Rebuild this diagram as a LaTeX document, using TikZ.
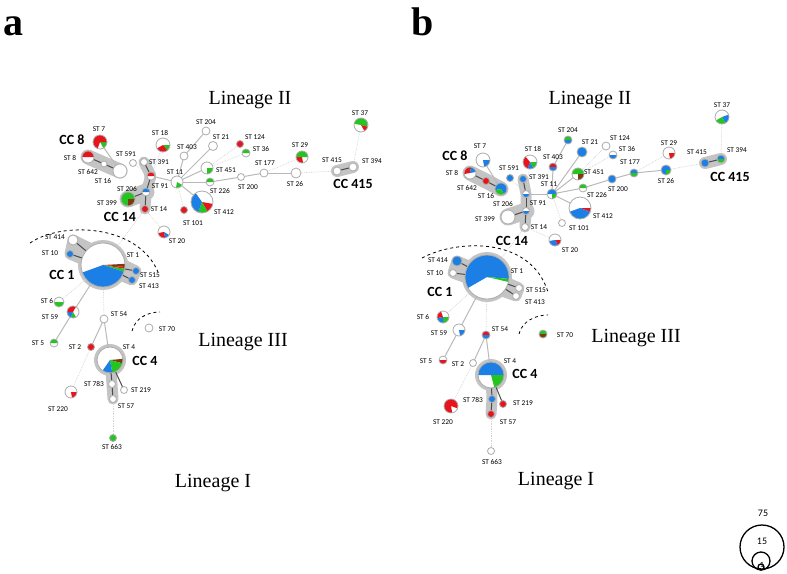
\documentclass[tikz,border=0pt]{standalone}
\usepackage{fontspec}
\setmainfont{Liberation Serif}
\newfontfamily\calib{Carlito}
\usetikzlibrary{positioning}
\pgfdeclarelayer{bg}
\pgfdeclarelayer{edges}
\pgfsetlayers{bg,edges,main}
\definecolor{stred}{HTML}{E8141B}
\definecolor{stgreen}{HTML}{26C420}
\definecolor{stblue}{HTML}{1C7FE6}
\definecolor{stbrown}{HTML}{7A3B0E}
\definecolor{hullgray}{HTML}{C4C4C4}
\tikzset{
  stnode/.style={circle,fill=white,inner sep=0pt,outer sep=0pt},
  stline/.style={draw=gray!65,line width=0.8pt},
  stlab/.style={font=\calib\fontsize{7.4}{8}\selectfont,inner sep=0pt},
  cclab/.style={font=\calib\bfseries\fontsize{14}{15}\selectfont,inner sep=0pt},
  linlab/.style={font=\fontsize{20}{22}\selectfont,inner sep=0pt},
  panlab/.style={font=\bfseries\fontsize{40}{40}\selectfont,inner sep=0pt,anchor=base},
  link/.style={draw=gray!55,line width=1pt},
  faint/.style={draw=gray!35,line width=0.7pt,densely dotted},
  core/.style={draw=black!70,line width=1pt},
  hull/.style={draw=hullgray,fill=hullgray,line cap=round,line join=round},
  cutline/.style={draw=black,line width=0.8pt,dashed},
  legring/.style={circle,draw=black,line width=1.3pt,inner sep=0pt}
}
% #1 name, #2 centre, #3 radius, #4 slices colour/from/to, #5 label centre, #6 label
\newcommand{\stpie}[6]{%
  \node[stnode,minimum size=2*#3] (#1) at (#2) {};
  \foreach \pc/\pa/\pb in {#4}
    {\fill[\pc] (#1.center) -- ++(\pa:#3) arc[start angle=\pa,end angle=\pb,radius=#3] -- cycle;}
  \draw[stline] (#1.center) circle[radius=#3];
  \node[stlab] (#1l) at (#5) {#6};
}
\begin{document}
\begin{tikzpicture}[x=1pt,y=-1pt]
\useasboundingbox (0,0) rectangle (787,573);

% panel a
\stpie{a7}{100,142}{7}{stgreen/0/60,stred/110/360}{99,129}{ST 7}
\stpie{a8}{88,157}{6}{stred/180/360}{70,158}{ST 8}
\stpie{a642}{104,164}{3}{white/0/360}{88,172}{ST 642}
\stpie{a16}{120,171}{7}{white/0/360}{103,181}{ST 16}
\stpie{a591}{133,163}{3.5}{white/0/360}{126,154}{ST 591}
\stpie{a391}{144,162}{3.5}{white/0/360}{159,162}{ST 391}
\stpie{a18}{163,145}{7}{stgreen/0/50,stred/50/150}{160,133}{ST 18}
\stpie{a403}{184,156}{4}{white/0/360}{187,147}{ST 403}
\stpie{a204}{206,131}{4}{white/0/360}{206,122}{ST 204}
\stpie{a21}{213,146}{4.5}{white/0/360}{221,137}{ST 21}
\stpie{a124}{240,144}{3.5}{stred/0/360}{255,137}{ST 124}
\stpie{a36}{246,153}{4}{stgreen/180/360}{261,149}{ST 36}
\stpie{a91}{151,176}{4}{stred/180/360}{160,186}{ST 91}
\stpie{a11}{177,182}{6}{stgreen/30/100}{175,172}{ST 11}
\stpie{a451}{207,168}{6}{stgreen/0/90}{226,170}{ST 451}
\stpie{a226}{210,182}{4}{stgreen/180/360}{220,191}{ST 226}
\stpie{a200}{241,177}{3.5}{white/0/360}{248,187}{ST 200}
\stpie{a177}{264,173}{4}{white/0/360}{265,163}{ST 177}
\stpie{a26}{296,173}{5}{white/0/360}{295,184}{ST 26}
\stpie{a29}{302,157}{6}{stred/80/180,stgreen/180/360}{300,145}{ST 29}
\stpie{a37}{361,125}{7}{stgreen/190/375,stred/15/60}{360,113}{ST 37}
\stpie{a415}{337,171}{4}{white/0/360}{332,160}{ST 415}
\stpie{a394}{353,167}{4}{white/0/360}{372,161}{ST 394}
\stpie{a206}{146,192}{4}{stblue/180/360}{127,189}{ST 206}
\stpie{a399}{128,199}{7}{stgreen/90/360,stbrown/0/90}{107,203}{ST 399}
\stpie{a14}{145,209}{3.5}{stred/0/360}{159,209}{ST 14}
\stpie{a101}{184,210}{3.5}{stred/0/360}{193,223}{ST 101}
\stpie{a412}{202,202}{11}{stred/10/60,stgreen/60/110,stblue/110/235}{224,212}{ST 412}
\stpie{a20}{164,232}{6}{stblue/30/80,stred/80/170}{177,241}{ST 20}
\stpie{a414}{73,240}{5}{white/0/360}{55,237}{ST 414}
\stpie{a10}{70,254}{3.5}{stblue/0/360}{50,253}{ST 10}
\stpie{a1}{103,265}{22}{stbrown/-3/5,stred/5/10,stgreen/10/18,stblue/18/160}{133,255}{ST 1}
\stpie{a515}{136,271}{3.5}{stblue/0/360}{150,275}{ST 515}
\stpie{a413}{132,280}{3.5}{stblue/0/360}{149,286}{ST 413}
\stpie{a6}{59,302}{5}{stgreen/0/180}{47,301}{ST 6}
\stpie{a59}{73,312}{6}{stgreen/60/110,stblue/110/180,stred/180/300}{50,317}{ST 59}
\stpie{a54}{104,319}{4}{white/0/360}{119,314}{ST 54}
\stpie{a70}{149,328}{4}{white/0/360}{167,329}{ST 70}
\stpie{a5}{54,343}{4}{stgreen/180/360}{38,343}{ST 5}
\stpie{a2}{91,347}{3.5}{stred/0/360}{75,347}{ST 2}
\stpie{a4}{110,360}{13}{stbrown/-5/15,stgreen/15/80,stblue/80/125}{129,347}{ST 4}
\stpie{a783}{112,384}{3.5}{white/0/360}{94,384}{ST 783}
\stpie{a219}{124,390}{3.5}{white/0/360}{141,390}{ST 219}
\stpie{a57}{113,399}{3.5}{white/0/360}{126,406}{ST 57}
\stpie{a220}{71,392}{6}{stred/0/80}{58,409}{ST 220}
\stpie{a663}{113,438}{3.5}{stgreen/0/360}{112,447}{ST 663}

% panel b
\stpie{b7}{483,160}{7}{stblue/0/80}{480,146}{ST 7}
\stpie{b8}{470,173}{6}{stred/170/280,stblue/280/350}{452,173}{ST 8}
\stpie{b642}{486,181}{3.5}{stred/0/360}{467,188}{ST 642}
\stpie{b16}{501,189}{6}{stblue/170/420,stgreen/60/170}{486,196}{ST 16}
\stpie{b591}{510,178}{3.5}{stblue/0/360}{509,168}{ST 591}
\stpie{b391}{523,179}{3.5}{stblue/0/360}{539,177}{ST 391}
\stpie{b18}{530,162}{7}{stgreen/0/60,stblue/60/110,stred/110/230}{533,149}{ST 18}
\stpie{b403}{553,167}{4}{stred/180/360,stblue/0/180}{553,157}{ST 403}
\stpie{b204}{568,140}{4}{stgreen/180/360,stblue/0/180}{568,130}{ST 204}
\stpie{b21}{582,152}{5}{stblue/0/360}{590,142}{ST 21}
\stpie{b124}{606,146}{4}{white/0/360}{620,138}{ST 124}
\stpie{b36}{613,155}{4}{stblue/0/180}{627,149}{ST 36}
\stpie{b91}{526,194}{3.5}{stblue/0/180}{538,203}{ST 91}
\stpie{b11}{552,194}{5}{stblue/180/360,stgreen/0/90}{549,184}{ST 11}
\stpie{b451}{578,174}{6}{stgreen/180/360,stbrown/0/90}{594,172}{ST 451}
\stpie{b226}{583,188}{4}{stgreen/180/360}{597,195}{ST 226}
\stpie{b200}{612,179}{4}{stblue/0/360}{618,189}{ST 200}
\stpie{b177}{634,173}{4}{stblue/180/360,stgreen/0/180}{630,162}{ST 177}
\stpie{b26}{666,170}{5}{stblue/90/360,stgreen/0/90}{666,181}{ST 26}
\stpie{b29}{669,153}{6}{stred/0/80}{669,143}{ST 29}
\stpie{b37}{722,117}{7}{stblue/-20/60,stgreen/60/150}{722,105}{ST 37}
\stpie{b415}{705,163}{4}{stblue/0/360}{697,152}{ST 415}
\stpie{b394}{721,159}{4}{stblue/180/360,stgreen/0/180}{737,150}{ST 394}
\stpie{b206}{526,211}{3.5}{stblue/0/180}{503,204}{ST 206}
\stpie{b399}{508,217}{7}{white/0/360}{485,219}{ST 399}
\stpie{b14}{525,227}{3.5}{white/0/360}{539,227}{ST 14}
\stpie{b101}{562,223}{3.5}{white/0/360}{579,228}{ST 101}
\stpie{b412}{580,208}{11}{stred/0/20,stblue/20/160}{603,216}{ST 412}
\stpie{b20}{555,240}{6}{stred/0/60,stblue/60/170}{570,250}{ST 20}
\stpie{b414}{457,261}{5}{stblue/0/360}{438,260}{ST 414}
\stpie{b10}{453,273}{3.5}{white/0/360}{435,273}{ST 10}
\stpie{b1}{487,277}{22}{stblue/150/365,stgreen/365/373}{517,271}{ST 1}
\stpie{b515}{519,288}{3.5}{white/0/360}{536,290}{ST 515}
\stpie{b413}{516,296}{3.5}{white/0/360}{535,302}{ST 413}
\stpie{b6}{443,317}{6}{stgreen/0/90,stblue/90/170,stred/170/250}{423,317}{ST 6}
\stpie{b59}{459,330}{6}{stblue/0/80}{439,333}{ST 59}
\stpie{b54}{486,335}{4}{stred/180/360,stblue/0/180}{500,329}{ST 54}
\stpie{b70}{543,334}{4}{stgreen/180/360,stbrown/0/180}{565,335}{ST 70}
\stpie{b5}{443,360}{4}{stred/0/180}{426,361}{ST 5}
\stpie{b2}{473,363}{3.5}{white/0/360}{458,364}{ST 2}
\stpie{b4}{491,375}{13}{stblue/180/360,stgreen/0/75}{510,361}{ST 4}
\stpie{b783}{492,399}{3.5}{stblue/0/360}{473,400}{ST 783}
\stpie{b219}{503,404}{3.5}{stred/0/360}{523,403}{ST 219}
\stpie{b57}{491,414}{3.5}{stred/0/360}{508,422}{ST 57}
\stpie{b220}{451,406}{7}{stred/80/380}{443,422}{ST 220}
\stpie{b663}{491,451}{3.5}{white/0/360}{492,462}{ST 663}

\begin{pgfonlayer}{edges}
\foreach \s in {a,b}{
  \foreach \p/\q in {7/16,91/11,11/451,11/226,11/412,11/21,403/204,11/403,226/200,200/177,177/26,59/5,54/2,54/4,1/59}
    {\draw[link] (\s\p) -- (\s\q);}
  \foreach \p/\q in {18/91,591/91,451/36,451/124,177/29,26/415,394/37,11/101,14/20,14/1,1/6,1/54,2/220,57/663}
    {\draw[faint] (\s\p) -- (\s\q);}
  \foreach \p/\q in {8/642,642/16,391/91,91/206,206/399,206/14,414/1,10/1,1/515,1/413,4/783,783/57,4/219,415/394}
    {\draw[core] (\s\p) -- (\s\q);}
}
\end{pgfonlayer}

\begin{pgfonlayer}{bg}
\foreach \s in {a,b}{
  \draw[hull,line width=15pt] (\s8.center) -- (\s642.center) -- (\s16.center);
  \draw[hull,line width=11pt] (\s391.center) -- (\s91.center) -- (\s206.center) -- (\s14.center);
  \draw[hull,line width=17pt] (\s206.center) -- (\s399.center);
  \draw[hull,line width=12pt] (\s415.center) -- (\s394.center);
  \filldraw[hull,line width=11pt] (\s414.center) -- (\s10.center) -- (\s413.center) -- (\s515.center) -- cycle;
  \fill[hullgray] (\s1.center) circle[radius=25];
  \draw[hull,line width=11pt] (\s4.center) -- (\s783.center) -- (\s57.center);
  \fill[hullgray] (\s4.center) circle[radius=16];
}
\end{pgfonlayer}

\draw[cutline] (30,243) .. controls (62,221) and (138,224) .. (158,272);
\draw[cutline] (132,331) .. controls (135,318) and (148,312) .. (160,312);
\draw[cutline] (422,258) .. controls (455,240) and (530,235) .. (548,292);
\draw[cutline] (519,334) .. controls (522,321) and (536,315) .. (548,315);

\node[cclab] (acc8) at (72,140) {CC 8};
\node[cclab] (acc14) at (120,217) {CC 14};
\node[cclab] (acc415) at (353,184) {CC 415};
\node[cclab] (acc1) at (62,275) {CC 1};
\node[cclab] (acc4) at (145,361) {CC 4};
\node[cclab] (bcc8) at (455,156) {CC 8};
\node[cclab] (bcc14) at (512,241) {CC 14};
\node[cclab] (bcc415) at (730,177) {CC 415};
\node[cclab] (bcc1) at (440,292) {CC 1};
\node[cclab] (bcc4) at (525,374) {CC 4};

\node[linlab] (alin2) at (250,100) {Lineage II};
\node[linlab] (alin3) at (243,342) {Lineage III};
\node[linlab] (alin1) at (213,483) {Lineage I};
\node[linlab] (blin2) at (590,100) {Lineage II};
\node[linlab] (blin3) at (636,338) {Lineage III};
\node[linlab] (blin1) at (556,481) {Lineage I};

\node[panlab] (pana) at (13,35) {a};
\node[panlab] (panb) at (423,35) {b};

\node[legring,minimum size=44pt] (leg75) at (762,547) {};
\node[legring,minimum size=18pt] (leg15) at (761,561) {};
\node[legring,minimum size=6pt] (leg1) at (761,567) {};
\node[font=\calib\fontsize{10}{11}\selectfont] (leg75l) at (763,513) {75};
\node[font=\calib\fontsize{10}{11}\selectfont] (leg15l) at (762,541) {15};
\node[font=\calib\fontsize{8}{9}\selectfont,inner sep=0pt] (leg1l) at (762,565) {1};
\end{tikzpicture}
\end{document}
